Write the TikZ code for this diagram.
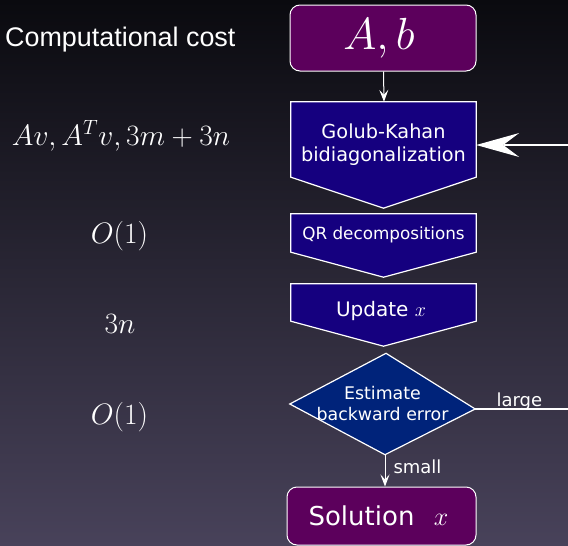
\RequirePackage{fix-cm}
\documentclass[tikz,border=0pt]{standalone}
\usepackage{fontspec}
\newfontfamily\dvs{DejaVu Sans}
\newfontfamily\lsans{Liberation Sans}
\usetikzlibrary{arrows.meta,calc}
\pgfdeclarelayer{bgimg}
\pgfdeclarelayer{shp}
\pgfsetlayers{bgimg,shp,main}
\definecolor{bgtop}{HTML}{0A0A0F}
\definecolor{bgmid}{HTML}{1F1E2F}
\definecolor{bgbot}{HTML}{48425A}
\definecolor{purp}{HTML}{5C005C}
\definecolor{navy}{HTML}{15007F}
\definecolor{diablue}{HTML}{00237A}
\begin{document}
\begin{tikzpicture}[x=1pt,y=-1pt,
  every node/.style={text=white},
  rbox/.style={rectangle, rounded corners=10pt, draw=white, line width=1pt, fill=purp, inner sep=0pt},
  pbox/.style={rectangle, inner sep=0pt, minimum width=185pt},
  pent/.style={draw=white, line width=1.2pt, fill=navy, line join=miter},
  diashape/.style={draw=white, line width=1.2pt, fill=diablue, line join=miter},
  conn/.style={draw=white, line width=1pt, -{Stealth[length=12pt,width=9pt,inset=5pt]}},
  loopline/.style={draw=white, line width=2.5pt},
  bighead/.style={fill=white},
  lbl/.style={font=\dvs\fontsize{18}{22}\selectfont},
  costtxt/.style={font=\fontsize{29.5}{33}\selectfont, anchor=base}]
\useasboundingbox (0,0) rectangle (568,546);
\begin{pgfonlayer}{bgimg}
  \shade[top color=bgtop, middle color=bgmid, bottom color=bgbot] (0,0) rectangle (568,546);
\end{pgfonlayer}

% left column
\node[anchor=base west, inner sep=0pt, font=\lsans\fontsize{26.9}{30}\selectfont] (cc) at (5,46) {Computational cost};
\node[costtxt] (c1) at (121,145) {$Av, A^Tv, 3m+3n$};
\node[costtxt] (c2) at (119.5,243) {$O(1)$};
\node[costtxt] (c3) at (120,333) {$3n$};
\node[costtxt] (c4) at (119.5,424) {$O(1)$};

% flow
\node[rbox, minimum width=186pt, minimum height=66pt, font=\fontsize{45}{48}\selectfont] (ab) at (383,38) {$A,b$\kern8pt};
\node[pbox, minimum height=75pt, text height=43pt, text depth=0pt, align=center, font=\dvs\fontsize{19.3}{23}\selectfont] (gk) at (383.5,139.5) {Golub-Kahan\\bidiagonalization};
\node[pbox, minimum height=38pt, text height=12pt, text depth=0pt, font=\dvs\fontsize{16.8}{20}\selectfont] (qr) at (383.5,233) {QR decompositions};
\node[pbox, minimum height=37pt, text height=27pt, text depth=0pt, font=\dvs\fontsize{20}{23}\selectfont] (up) at (383.5,302.5) {Update $x$\kern5pt};
\node[pbox, minimum width=185pt, minimum height=101pt, align=center, font=\dvs\fontsize{17.4}{21}\selectfont] (dia) at (382.5,404) {Estimate\\backward error};
\node[rbox, minimum width=189pt, minimum height=58pt, font=\dvs\fontsize{26}{30}\selectfont] (sol) at (381.5,516) {Solution\hspace{0.75em}$x$\kern6pt};

\coordinate (de) at ([yshift=-5pt]dia.east);
\coordinate (ds) at ([xshift=2.5pt]dia.south);
\coordinate (dn) at ([xshift=3.5pt]dia.north);

\begin{pgfonlayer}{shp}
  \path[pent] (gk.north west) -- (gk.north east) -- (gk.south east) -- ([yshift=-31pt]gk.south) -- (gk.south west) -- cycle;
  \path[pent] (qr.north west) -- (qr.north east) -- (qr.south east) -- ([yshift=-25pt]qr.south) -- (qr.south west) -- cycle;
  \path[pent] (up.north west) -- (up.north east) -- (up.south east) -- ([yshift=-25pt]up.south) -- (up.south west) -- cycle;
  \path[diashape] (dia.west) -- (dn) -- (de) -- (ds) -- cycle;
\end{pgfonlayer}

\draw[conn] ([xshift=0.5pt]ab.south) -- ([xshift=0.5pt]gk.north);
\draw[conn] (ds) -- (ds |- sol.north);

\coordinate (lr) at (640,145);
\coordinate (tip) at (lr -| gk.east);
\begin{scope}
  \clip (0,0) rectangle (568,546);
  \draw[loopline] (de) -- (de -| lr) -- (lr) -- ($(tip)+(28,0)$);
\end{scope}
\path[bighead] (tip) -- ++(43,-12) -- ++(-16,12) -- ++(16,12) -- cycle;

\node[lbl, anchor=base west] (lg) at (493,406) {large};
\node[lbl, anchor=base west] (sm) at (390,473) {small};
\end{tikzpicture}
\end{document}
